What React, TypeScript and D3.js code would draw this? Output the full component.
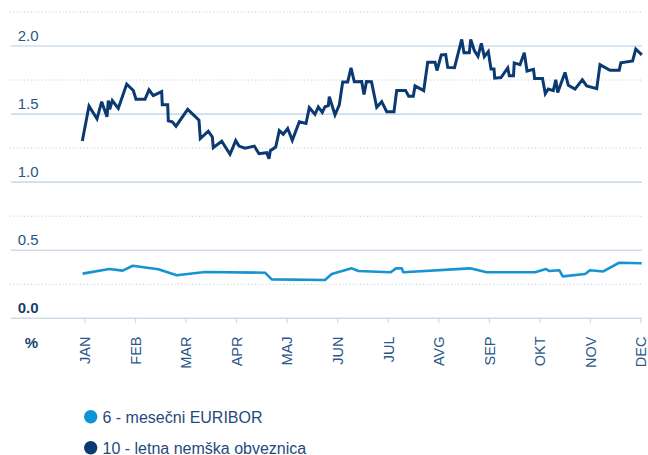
import React from "react";
import * as d3 from "d3";

const months = ["JAN", "FEB", "MAR", "APR", "MAJ", "JUN", "JUL", "AVG", "SEP", "OKT", "NOV", "DEC"];
const majorTicks = [0, 0.5, 1.0, 1.5, 2.0];
const minorTicks = [0.25, 0.75, 1.25, 1.75, 2.25];
const legendLabels = ["6 - mesečni EURIBOR", "10 - letna nemška obveznica"];

// x positions in month units (0 = JAN), values in %
const bundT = [
  -0.053, 0.079, 0.237, 0.33, 0.435, 0.461, 0.489, 0.54, 0.659, 0.825, 0.956, 1.009, 1.187, 1.266, 1.351,
  1.517, 1.529, 1.636, 1.648, 1.727, 1.8, 2.032, 2.255, 2.281, 2.439, 2.519, 2.538, 2.705, 2.869, 2.982,
  3.047, 3.166, 3.35, 3.442, 3.595, 3.64, 3.666, 3.773, 3.844, 3.923, 4.01, 4.101, 4.24, 4.372, 4.438,
  4.55, 4.616, 4.695, 4.748, 4.814, 4.833, 4.946, 5.031, 5.098, 5.197, 5.263, 5.328, 5.474, 5.52, 5.569,
  5.668, 5.771, 5.87, 5.969, 6.113, 6.167, 6.341, 6.404, 6.495, 6.529, 6.701, 6.78, 6.925, 6.964, 7.049,
  7.136, 7.176, 7.31, 7.453, 7.498, 7.603, 7.631, 7.702, 7.775, 7.841, 7.9, 7.979, 8.033, 8.092, 8.106,
  8.23, 8.363, 8.395, 8.478, 8.492, 8.606, 8.691, 8.745, 8.873, 8.895, 9.051, 9.107, 9.166, 9.265, 9.314,
  9.352, 9.497, 9.562, 9.694, 9.839, 9.926, 10.124, 10.189, 10.387, 10.569, 10.601, 10.834, 10.897, 11.016,
];
const bundV = [
  1.302, 1.559, 1.465, 1.591, 1.48, 1.599, 1.535, 1.599, 1.542, 1.72, 1.673, 1.609, 1.609, 1.678, 1.636,
  1.665, 1.569, 1.569, 1.45, 1.443, 1.411, 1.535, 1.456, 1.32, 1.374, 1.332, 1.253, 1.3, 1.204, 1.305,
  1.265, 1.25, 1.265, 1.209, 1.216, 1.172, 1.231, 1.258, 1.379, 1.352, 1.394, 1.307, 1.443, 1.431, 1.547,
  1.498, 1.552, 1.513, 1.554, 1.562, 1.628, 1.493, 1.567, 1.735, 1.735, 1.839, 1.737, 1.739, 1.644, 1.739,
  1.737, 1.55, 1.591, 1.517, 1.517, 1.674, 1.674, 1.631, 1.631, 1.707, 1.672, 1.881, 1.881, 1.82, 1.935,
  1.937, 1.843, 1.841, 2.048, 1.95, 1.95, 2.048, 1.967, 1.924, 2.019, 1.922, 1.959, 1.831, 1.831, 1.764,
  1.768, 1.839, 1.781, 1.781, 1.876, 1.863, 1.95, 1.816, 1.828, 1.761, 1.761, 1.65, 1.684, 1.672, 1.752,
  1.658, 1.806, 1.711, 1.683, 1.752, 1.707, 1.687, 1.863, 1.821, 1.821, 1.876, 1.89, 1.978, 1.935,
];

const euriborT = [
  -0.046, 0.481, 0.746, 0.944, 1.45, 1.814, 2.374, 3.561, 3.694, 4.748, 4.881, 5.277, 5.408, 6.048, 6.153,
  6.266, 6.297, 7.617, 7.947, 8.903, 9.121, 9.186, 9.384, 9.451, 9.893, 9.992, 10.254, 10.565, 11.014,
];
const euriborV = [
  0.328, 0.362, 0.35, 0.386, 0.36, 0.316, 0.34, 0.335, 0.286, 0.281, 0.325, 0.367, 0.347, 0.338, 0.367,
  0.367, 0.338, 0.367, 0.338, 0.338, 0.362, 0.347, 0.353, 0.308, 0.325, 0.353, 0.344, 0.408, 0.404,
];

const W = 648;
const H = 455;
const FONT = "'Liberation Sans', Arial, Helvetica, sans-serif";
const DARK = "#0b3a73";
const LIGHT = "#1694d2";
const TEXT = "#2b5789";
const GRID = "#cddceb";
const DOT = "#b7cfe5";

export default function App() {
  const x = d3.scaleLinear().domain([0, 11]).range([85, 641]);
  const y = d3.scaleLinear().domain([0, 2.0]).range([318.3, 46]);
  const gridX0 = 11;
  const gridX1 = 642;

  const line = d3
    .line<[number, number]>()
    .x((d) => x(d[0]))
    .y((d) => y(d[1]))
    .curve(d3.curveLinear);

  const bund: [number, number][] = bundT.map((t, i) => [t, bundV[i]]);
  const eur: [number, number][] = euriborT.map((t, i) => [t, euriborV[i]]);

  return (
    <svg
      width={W}
      height={H}
      style={{ position: "absolute", left: 0, top: 0, background: "#fff" }}
      fontFamily={FONT}
    >
      {minorTicks.map((v) => (
        <line
          key={"m" + v}
          x1={gridX0 - 1}
          x2={gridX1}
          y1={y(v)}
          y2={y(v)}
          stroke={DOT}
          strokeWidth={1}
          strokeDasharray="1.2,2.3"
        />
      ))}
      {majorTicks.map((v) => (
        <line
          key={"g" + v}
          x1={gridX0}
          x2={gridX1}
          y1={y(v)}
          y2={y(v)}
          stroke={GRID}
          strokeWidth={1.6}
        />
      ))}
      {months.map((m, i) => (
        <line key={"t" + m} x1={x(i)} x2={x(i)} y1={y(0)} y2={y(0) + 5} stroke={GRID} strokeWidth={1.2} />
      ))}
      {majorTicks.map((v) => (
        <text
          key={"l" + v}
          x={38.5}
          y={y(v) - 5.3}
          textAnchor="end"
          fontSize={15}
          fill={v === 0 ? "#173f72" : TEXT}
          fontWeight={v === 0 ? "bold" : "normal"}
        >
          {v.toFixed(1)}
        </text>
      ))}
      <text x={31.4} y={348} textAnchor="middle" fontSize={15} fontWeight="bold" fill="#173f72">
        %
      </text>
      {months.map((m, i) => (
        <text
          key={"x" + m}
          transform={`translate(${x(i)},336.5) rotate(-90)`}
          textAnchor="end"
          dy="0.36em"
          fontSize={14.5}
          fill={TEXT}
        >
          {m}
        </text>
      ))}
      <path d={line(eur) || ""} fill="none" stroke={LIGHT} strokeWidth={2.6} strokeLinejoin="round" />
      <path d={line(bund) || ""} fill="none" stroke={DARK} strokeWidth={3} strokeLinejoin="miter" strokeMiterlimit={3} />
      {legendLabels.map((lab, i) => (
        <g key={lab} transform={`translate(0,${416.7 + i * 31})`}>
          <circle cx={90.7} cy={0} r={6.7} fill={i === 0 ? "#0e93d4" : DARK} />
          <text x={102.5} y={5.8} fontSize={16} fill="#1f4a7e">
            {lab}
          </text>
        </g>
      ))}
    </svg>
  );
}
